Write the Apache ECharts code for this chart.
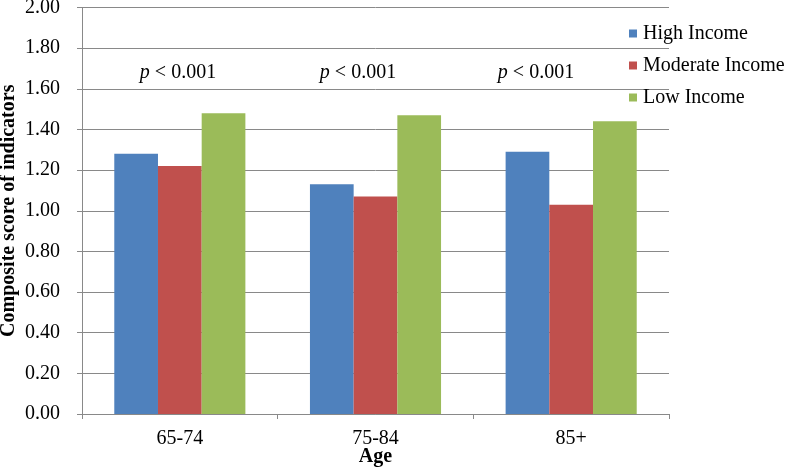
<!DOCTYPE html>
<html>
<head>
<meta charset="utf-8">
<script src="https://cdn.jsdelivr.net/npm/echarts@6/dist/echarts.min.js"></script>
<style>
html,body{margin:0;padding:0;background:#fff;}
#chart{width:786px;height:467px;}
</style>
</head>
<body>
<div id="chart"></div>
<script>
var categories = ['65-74', '75-84', '85+'];
var highIncome = [1.28, 1.13, 1.29];
var moderateIncome = [1.22, 1.07, 1.03];
var lowIncome = [1.48, 1.47, 1.44];
var seriesNames = ['High Income', 'Moderate Income', 'Low Income'];
var pLabels = ['< 0.001', '< 0.001', '< 0.001'];
var pLabelX = [178, 358, 536];

var FONT = '"Liberation Serif", "Times New Roman", serif';
var colors = ['#4F81BD', '#C0504D', '#9BBB59'];
var axisGray = '#898989';

var chart = echarts.init(document.getElementById('chart'), null, {renderer: 'canvas'});

var graphics = pLabels.map(function (t, i) {
  return {
    type: 'text',
    x: pLabelX[i],
    y: 73,
    style: {
      text: '{i|p} ' + t,
      font: '20px ' + FONT,
      fill: '#000',
      align: 'center',
      verticalAlign: 'middle',
      rich: {
        i: {fontStyle: 'italic', fontFamily: FONT, fontSize: 20, fill: '#000'}
      }
    }
  };
});

chart.setOption({
  animation: false,
  color: colors,
  grid: {left: 82, right: 117, top: 7.5, bottom: 53, containLabel: false, outerBoundsMode: 'none'},
  legend: {
    orient: 'vertical',
    left: 629,
    top: 23.5,
    padding: 0,
    itemWidth: 8,
    itemHeight: 8,
    itemGap: 12,
    icon: 'rect',
    data: seriesNames,
    textStyle: {fontFamily: FONT, fontSize: 20, color: '#000', lineHeight: 20, padding: [0, 0, 0, 1]}
  },
  xAxis: {
    type: 'category',
    data: categories,
    axisLine: {lineStyle: {color: axisGray, width: 1}},
    axisTick: {show: true, length: 5, lineStyle: {color: axisGray}},
    axisLabel: {fontFamily: FONT, fontSize: 20, color: '#000', margin: 15},
    name: 'Age',
    nameLocation: 'middle',
    nameGap: 33,
    nameMoveOverlap: false,
    nameTextStyle: {fontFamily: FONT, fontSize: 20, fontWeight: 'bold', color: '#000'}
  },
  yAxis: {
    type: 'value',
    min: 0,
    max: 2,
    interval: 0.2,
    axisLine: {show: true, lineStyle: {color: axisGray, width: 1}},
    axisTick: {show: true, length: 5, lineStyle: {color: axisGray}},
    splitLine: {show: true, lineStyle: {color: axisGray, width: 1}},
    axisLabel: {
      fontFamily: FONT, fontSize: 20, color: '#000', margin: 22,
      formatter: function (v) { return v.toFixed(2); }
    },
    name: 'Composite score of indicators',
    nameLocation: 'middle',
    nameGap: 63,
    nameRotate: 90,
    nameMoveOverlap: false,
    nameTextStyle: {fontFamily: FONT, fontSize: 20, fontWeight: 'bold', color: '#000'}
  },
  series: [
    {name: seriesNames[0], type: 'bar', data: highIncome, barGap: '0%', barCategoryGap: '33%'},
    {name: seriesNames[1], type: 'bar', data: moderateIncome, barGap: '0%', barCategoryGap: '33%'},
    {name: seriesNames[2], type: 'bar', data: lowIncome, barGap: '0%', barCategoryGap: '33%'}
  ],
  graphic: graphics
});
</script>
</body>
</html>
